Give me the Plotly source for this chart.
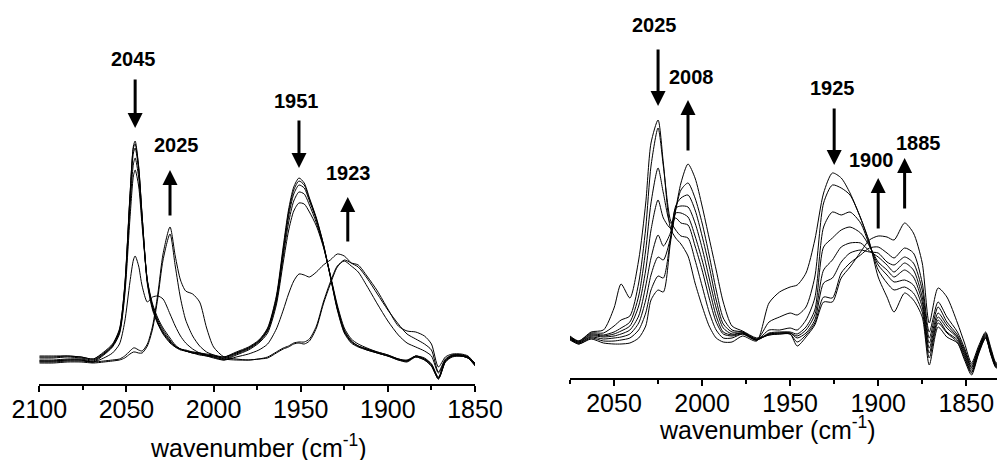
import plotly.graph_objects as go

# ---------------- Left panel data (wavenumber, arbitrary absorbance) ----------------
LX = [2100, 2092, 2084, 2076, 2069, 2063, 2058, 2054, 2051, 2048,
      2046, 2045, 2043, 2041, 2038, 2035, 2032, 2029, 2025, 2022,
      2019, 2016, 2012, 2008, 2004, 2000, 1994, 1987, 1980, 1974,
      1969, 1964, 1960, 1957, 1954, 1951, 1948, 1945, 1941, 1937,
      1933, 1929, 1925, 1921, 1917, 1912, 1906, 1900, 1894, 1889,
      1884, 1879, 1875, 1871, 1867, 1863, 1858, 1854, 1850]

L_A1 = [26, 26, 27, 26, 24, 30, 38, 52, 95, 187,
        238, 243, 218, 168, 100, 74, 60, 50, 41, 37,
        34, 33, 31, 30, 29, 28, 27, 32, 37, 44,
        56, 88, 138, 174, 197, 206, 201, 186, 166, 140,
        107, 74, 51, 41, 37, 34, 31, 28, 24, 23,
        28, 25, 20, 7, 24, 29, 29, 27, 20]
L_A2 = [27, 27, 28, 27, 25, 31, 39, 54, 98, 188,
        236, 240, 217, 168, 102, 76, 61, 51, 42, 37,
        35, 33, 32, 31, 29, 28, 26, 31, 36, 43,
        55, 86, 135, 171, 194, 203, 199, 185, 165, 140,
        108, 75, 52, 42, 38, 34, 31, 28, 25, 23,
        28, 25, 19, 6, 23, 28, 29, 27, 20]
L_A3 = [28, 28, 28, 27, 25, 32, 40, 55, 97, 185,
        231, 236, 214, 167, 103, 77, 62, 52, 43, 38,
        35, 34, 32, 31, 30, 29, 27, 31, 36, 43,
        54, 84, 132, 167, 190, 199, 196, 183, 164, 139,
        108, 76, 53, 43, 38, 35, 32, 29, 25, 24,
        28, 26, 20, 6, 23, 28, 28, 26, 19]
L_A4 = [24, 24, 25, 25, 23, 30, 38, 52, 92, 176,
        220, 226, 207, 163, 103, 78, 64, 54, 44, 38,
        35, 33, 31, 30, 28, 27, 25, 30, 35, 42,
        53, 82, 128, 161, 183, 192, 190, 179, 161, 138,
        108, 77, 54, 43, 38, 35, 31, 28, 24, 22,
        27, 24, 18, 5, 22, 28, 28, 26, 19]
L_A5 = [23, 23, 24, 24, 22, 29, 37, 50, 88, 165,
        208, 214, 198, 158, 104, 80, 66, 56, 46, 39,
        35, 33, 31, 29, 28, 26, 24, 29, 34, 41,
        51, 79, 122, 153, 173, 181, 180, 172, 158, 137,
        109, 79, 56, 45, 40, 36, 32, 29, 25, 23,
        27, 24, 18, 5, 22, 27, 28, 26, 18]
L_P = [23, 23, 24, 24, 22, 26, 31, 40, 62, 102,
       124, 128, 118, 98, 82, 87, 88, 85, 70, 58,
       48, 41, 35, 31, 29, 27, 24, 27, 30, 34,
       40, 55, 74, 90, 103, 110, 109, 107, 112, 119,
       124, 130, 128, 121, 117, 106, 90, 74, 60, 50,
       45, 40, 34, 12, 25, 29, 29, 27, 21]
L_Q = [22, 22, 23, 23, 22, 23, 24, 25, 28, 33,
       36, 36, 34, 33, 40, 58, 90, 130, 157, 128,
       104, 93, 90, 82, 56, 37, 27, 25, 24, 25,
       26, 31, 35, 37, 40, 41, 40, 43, 56, 80,
       100, 117, 124, 121, 119, 108, 93, 75, 58, 53,
       52, 48, 40, 17, 27, 30, 30, 28, 20]
L_R = [21, 21, 22, 22, 21, 22, 23, 24, 26, 30,
       32, 32, 31, 31, 38, 55, 86, 124, 150, 118,
       86, 64, 48, 38, 32, 29, 25, 24, 24, 25,
       27, 32, 36, 38, 41, 42, 42, 45, 58, 82,
       102, 118, 123, 118, 112, 98, 80, 63, 49, 41,
       37, 33, 28, 11, 24, 28, 28, 26, 19]
LEFT_SERIES = [L_A1, L_A2, L_A3, L_A4, L_A5, L_P, L_Q, L_R]

# ---------------- Right panel data ----------------
RX = [2075, 2070, 2063, 2056, 2050, 2046, 2041, 2036, 2032, 2029,
      2025, 2022, 2018, 2015, 2012, 2008, 2004, 2000, 1996, 1992,
      1988, 1983, 1977, 1969, 1962, 1956, 1950, 1946, 1941, 1936,
      1931, 1926, 1921, 1916, 1910, 1905, 1900, 1895, 1891, 1885,
      1880, 1875, 1871, 1866, 1861, 1855, 1851, 1847, 1843, 1839,
      1836, 1833, 1830, 1827]

R_T1 = [42, 37, 46, 48, 70, 94, 80, 118, 175, 235,
        258, 215, 150, 140, 134, 122, 95, 72, 52, 40,
        36, 36, 42, 37, 75, 86, 91, 93, 105, 138,
        185, 205, 200, 185, 160, 136, 101, 81, 66, 85,
        78, 61, 13, 51, 41, 35, 18, 3, 24, 40,
        23, 10, 16, 22]
R_T2 = [41, 37, 45, 45, 52, 58, 62, 95, 150, 212,
        250, 212, 158, 148, 142, 140, 118, 92, 66, 48,
        40, 40, 44, 38, 56, 61, 65, 63, 71, 101,
        175, 193, 190, 183, 160, 135, 108, 95, 88, 91,
        85, 66, 20, 55, 45, 36, 20, 5, 25, 40,
        24, 11, 17, 23]
R_T3 = [41, 36, 44, 43, 46, 50, 56, 82, 128, 175,
        210, 185, 155, 160, 155, 153, 132, 108, 80, 56,
        44, 42, 44, 38, 48, 48, 50, 48, 58, 80,
        151, 166, 163, 166, 155, 133, 113, 103, 96, 98,
        93, 71, 25, 58, 46, 38, 22, 6, 26, 41,
        24, 11, 17, 23]
R_T4 = [40, 36, 43, 42, 44, 47, 52, 72, 108, 148,
        178, 160, 150, 165, 165, 161, 142, 118, 90, 62,
        46, 43, 45, 38, 45, 46, 46, 44, 51, 68,
        131, 140, 148, 151, 145, 132, 116, 108, 101, 108,
        101, 76, 30, 61, 50, 40, 24, 8, 27, 42,
        25, 12, 18, 24]
R_T5 = [40, 35, 42, 41, 42, 44, 48, 62, 92, 120,
        143, 132, 145, 170, 172, 171, 155, 130, 100, 70,
        50, 44, 45, 38, 44, 45, 45, 42, 48, 63,
        108, 118, 131, 135, 135, 127, 121, 113, 106, 115,
        108, 81, 35, 65, 53, 41, 26, 10, 28, 43,
        26, 13, 18, 24]
R_T6 = [39, 35, 41, 39, 40, 41, 44, 55, 78, 103,
        121, 118, 140, 172, 180, 183, 168, 142, 112, 78,
        54, 46, 46, 39, 44, 45, 45, 40, 45, 58,
        95, 100, 116, 125, 128, 126, 125, 116, 113, 121,
        115, 88, 40, 71, 56, 43, 28, 11, 29, 44,
        27, 13, 19, 25]
R_T7 = [39, 34, 40, 37, 37, 38, 40, 48, 65, 88,
        102, 100, 138, 168, 188, 195, 180, 155, 123, 88,
        60, 48, 46, 39, 43, 44, 44, 36, 43, 55,
        81, 80, 105, 115, 123, 130, 131, 125, 120, 130,
        125, 95, 46, 76, 61, 46, 30, 13, 30, 45,
        28, 14, 19, 25]
R_T8 = [38, 34, 39, 35, 34, 34, 35, 40, 52, 78,
        88, 86, 135, 168, 195, 214, 200, 172, 140, 108,
        76, 52, 47, 40, 43, 44, 44, 32, 41, 53,
        76, 76, 100, 111, 126, 138, 142, 141, 138, 155,
        145, 115, 55, 90, 81, 55, 35, 15, 32, 46,
        30, 15, 20, 26]
RIGHT_SERIES = [R_T1, R_T2, R_T3, R_T4, R_T5, R_T6, R_T7, R_T8]

# ---------------- Tick labels and peak labels ----------------
LEFT_TICKS = [2100, 2050, 2000, 1950, 1900, 1850]
LEFT_MINOR = [2075, 2025, 1975, 1925, 1875]
RIGHT_TICKS = [2050, 2000, 1950, 1900, 1850]
RIGHT_MINOR = [2075, 2025, 1975, 1925, 1875]
AXIS_TITLE = "wavenumber (cm<sup>-1</sup>)"

LEFT_LABELS = ["2045", "1951", "2025", "1923"]
RIGHT_LABELS = ["2025", "2008", "1925", "1900", "1885"]

FONT = "Liberation Sans, Arial, sans-serif"

# The page body has an 8 px margin: lay the figure out in screen pixels.
OFF = 8
W, H = 997, 452

def fx(sx):
    return (sx - OFF) / W

def fy(sy):
    return 1 - (sy - OFF) / H

fig = go.Figure()
line_style = dict(color="black", width=1, shape="spline", smoothing=0.7)
for ys in LEFT_SERIES:
    fig.add_trace(go.Scatter(x=LX, y=ys, mode="lines", line=line_style,
                             xaxis="x", yaxis="y", showlegend=False, hoverinfo="skip"))
for ys in RIGHT_SERIES:
    fig.add_trace(go.Scatter(x=RX, y=ys, mode="lines", line=line_style,
                             xaxis="x2", yaxis="y2", showlegend=False, hoverinfo="skip"))


def xaxis_style(domain, rng, ticks, minor, anchor):
    return dict(domain=domain, range=rng, anchor=anchor, automargin=False,
                showline=True, linecolor="black", linewidth=1.5,
                ticks="outside", ticklen=6, tickwidth=1.5, tickcolor="black",
                ticklabelstandoff=-4,
                tickvals=ticks, ticktext=[str(t) for t in ticks],
                tickfont=dict(family=FONT, size=25, color="black"),
                minor=dict(ticks="outside", ticklen=4, tickwidth=1.5,
                           tickcolor="black", tickvals=minor),
                showgrid=False, zeroline=False)

ann = []
# text x, text y, arrow tail y, arrow tip y (data units of each panel)
left_pos = {"2045": (2046.2, 325, 306, 256),
            "1951": (1952.4, 283, 265, 216),
            "2025": (2021.2, 239, 167, 214),
            "1923": (1922.8, 211, 141, 187)}
right_pos = {"2025": (2026.9, 353, 330, 272),
             "2008": (2006.0, 301, 226, 278),
             "1925": (1925.9, 290, 271, 213),
             "1900": (1903.8, 218, 148, 200),
             "1885": (1877.3, 235, 168, 220)}

for labels, pos, xr, yr in ((LEFT_LABELS, left_pos, "x", "y"),
                            (RIGHT_LABELS, right_pos, "x2", "y2")):
    for lab in labels:
        tx, ty, tail, tip = pos[lab]
        ann.append(dict(x=tx, y=ty, xref=xr, yref=yr, text="<b>%s</b>" % lab,
                        showarrow=False, font=dict(family=FONT, size=20, color="black"),
                        xanchor="center", yanchor="middle"))
        ann.append(dict(x=float(lab), y=tip, ax=float(lab), ay=tail,
                        xref=xr, yref=yr, axref=xr, ayref=yr, text="",
                        showarrow=True, arrowhead=2, arrowsize=1, arrowwidth=3,
                        arrowcolor="black"))

ann.append(dict(x=fx(258.5), y=fy(446), xref="paper", yref="paper",
                text=AXIS_TITLE, showarrow=False,
                font=dict(family=FONT, size=25, color="black"),
                xanchor="center", yanchor="middle"))
ann.append(dict(x=fx(767.5), y=fy(428), xref="paper", yref="paper",
                text=AXIS_TITLE, showarrow=False,
                font=dict(family=FONT, size=25, color="black"),
                xanchor="center", yanchor="middle"))

fig.update_layout(
    template="none",
    width=W, height=H, autosize=False,
    margin=dict(l=0, r=0, t=0, b=0, pad=0, autoexpand=False),
    paper_bgcolor="white", plot_bgcolor="white",
    font=dict(family=FONT, color="black"),
    xaxis=xaxis_style([fx(39.3), fx(475)], [2100, 1850], LEFT_TICKS, LEFT_MINOR, "y"),
    yaxis=dict(domain=[fy(384), fy(10)], range=[0, 374], visible=False,
               anchor="x", automargin=False),
    xaxis2=xaxis_style([fx(570), 1.0], [2075, 1828], RIGHT_TICKS, RIGHT_MINOR, "y2"),
    yaxis2=dict(domain=[fy(378), fy(10)], range=[0, 368], visible=False,
                anchor="x2", automargin=False),
    annotations=ann,
)

fig.write_html("out.html")
